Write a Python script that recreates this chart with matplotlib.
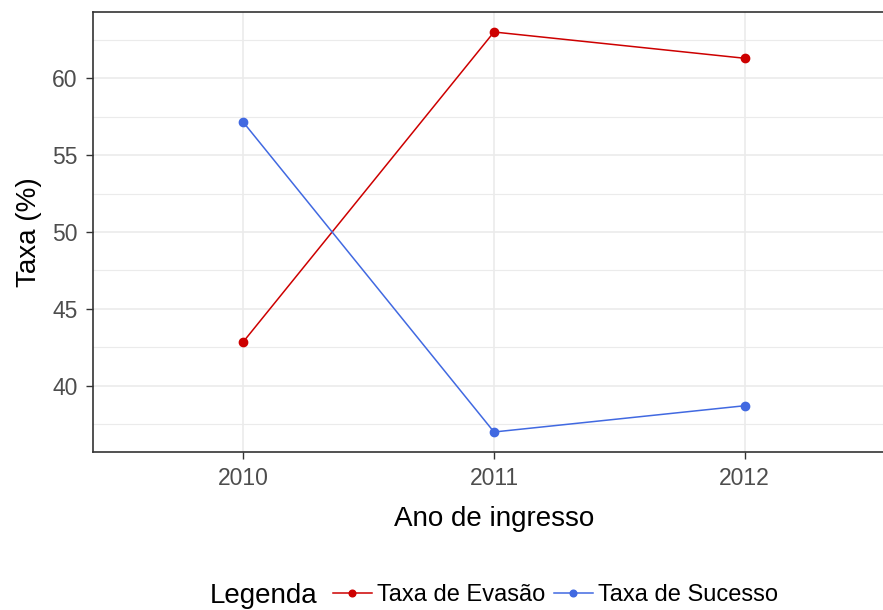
import matplotlib.pyplot as plt
from matplotlib.ticker import MultipleLocator

anos = ['2010', '2011', '2012']
taxa_evasao = [42.86, 63.02, 61.31]
taxa_sucesso = [57.14, 36.98, 38.69]

plt.rcParams['font.family'] = ['Liberation Sans', 'DejaVu Sans']

fig = plt.figure(figsize=(8.83, 6.10), dpi=100)
# panel runs past the right edge like in the original crop
ax = fig.add_axes([93 / 883, 1 - 452 / 610, 802 / 883, 440 / 610])

x = list(range(len(anos)))
ax.plot(x, taxa_evasao, color='#CD0000', lw=1.1, marker='o', ms=6,
        label='Taxa de Evasão', zorder=3)
ax.plot(x, taxa_sucesso, color='#4169E1', lw=1.1, marker='o', ms=6,
        label='Taxa de Sucesso', zorder=3)

ax.set_xlim(-0.6, 2.6)
lo, hi = min(taxa_sucesso + taxa_evasao), max(taxa_sucesso + taxa_evasao)
pad = (hi - lo) * 0.05
ax.set_ylim(lo - pad, hi + pad)
ax.set_xticks(x)
ax.set_xticklabels(anos)
ax.yaxis.set_major_locator(MultipleLocator(5))
ax.yaxis.set_minor_locator(MultipleLocator(2.5))

ax.grid(True, which='major', color='#EBEBEB', lw=1.2)
ax.grid(True, which='minor', axis='y', color='#EBEBEB', lw=0.8)
ax.set_axisbelow(True)
for s in ax.spines.values():
    s.set_color('#333333')
    s.set_linewidth(1.2)

ax.tick_params(axis='both', which='major', length=5, width=1, color='#333333',
               labelsize=16.5, labelcolor='#4D4D4D', pad=6)
ax.tick_params(axis='y', which='minor', length=0)

ax.set_xlabel('Ano de ingresso', fontsize=20, labelpad=11)
ax.set_ylabel('Taxa (%)', fontsize=20, labelpad=7)

fig.text(210 / 883, 1 - 596 / 610, 'Legenda', fontsize=20, va='center', ha='left')
ax.legend(loc='center left', bbox_to_anchor=(333 / 883, 1 - 595 / 610),
          bbox_transform=fig.transFigure, ncol=2, frameon=False, fontsize=17,
          handlelength=1.65, handletextpad=0.22, columnspacing=0.35, borderpad=0,
          borderaxespad=0, markerscale=0.8)

fig.savefig('out.png', dpi=100)
